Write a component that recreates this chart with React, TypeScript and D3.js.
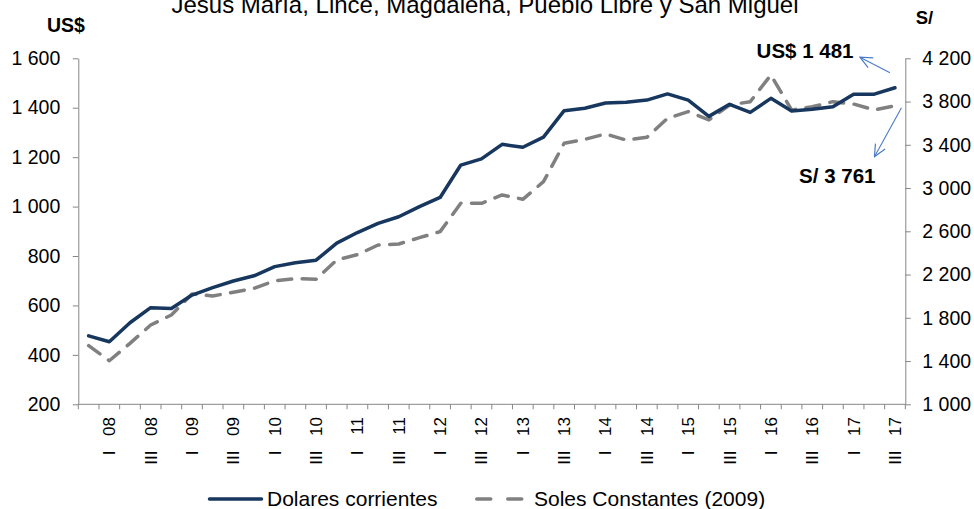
import { useEffect, useRef } from "react"
import * as d3 from "d3"

const categories = [
  "IV 07",
  "I 08", "II 08", "III 08", "IV 08",
  "I 09", "II 09", "III 09", "IV 09",
  "I 10", "II 10", "III 10", "IV 10",
  "I 11", "II 11", "III 11", "IV 11",
  "I 12", "II 12", "III 12", "IV 12",
  "I 13", "II 13", "III 13", "IV 13",
  "I 14", "II 14", "III 14", "IV 14",
  "I 15", "II 15", "III 15", "IV 15",
  "I 16", "II 16", "III 16", "IV 16",
  "I 17", "II 17", "III 17",
]

const dolares = [
  477, 453, 530, 591, 588, 642, 672, 699, 720, 757,
  773, 783, 852, 895, 932, 959, 1000, 1037, 1168, 1193,
  1252, 1240, 1281, 1388, 1398, 1419, 1422, 1431, 1456, 1431,
  1365, 1414, 1381, 1438, 1387, 1394, 1404, 1455, 1455, 1481,
]

const soles = [
  1542, 1403, 1564, 1733, 1826, 2020, 2002, 2036, 2073, 2143,
  2162, 2156, 2335, 2384, 2473, 2483, 2541, 2597, 2859, 2859,
  2936, 2896, 3059, 3414, 3451, 3500, 3444, 3469, 3645, 3707,
  3630, 3768, 3799, 4046, 3722, 3752, 3799, 3777, 3722, 3761,
]

const leftTicks = [200, 400, 600, 800, 1000, 1200, 1400, 1600]
const rightTicks = [1000, 1400, 1800, 2200, 2600, 3000, 3400, 3800, 4200]

const title = "Jesus María, Lince, Magdalena, Pueblo Libre y San Miguel"
const seriesNames = ["Dolares corrientes", "Soles Constantes (2009)"]

const FONT = "'Liberation Sans', Arial, sans-serif"
const AXIS = "#868686"
const BLUE = "#17375e"
const GREY = "#808080"
const NOTE = "#4a7bc8"

const fmt = (v: number) => d3.format(",")(v).replace(/,/g, " ")

export default function App() {
  const svgRef = useRef<SVGSVGElement>(null)

  useEffect(() => {
    if (!svgRef.current) return
    const width = 974
    const height = 509
    const left = 78.3
    const right = 905.3
    const top = 58.3
    const bottom = 404.3

    const root = d3.select(svgRef.current)
    root.selectAll("*").remove()
    root.attr("width", width).attr("height", height)

    const x = d3.scaleBand<string>().domain(categories).range([left, right]).paddingInner(0).paddingOuter(0)
    const cx = (c: string) => (x(c) as number) + x.bandwidth() / 2
    const yL = d3.scaleLinear().domain([200, 1600]).range([bottom, top])
    const yR = d3.scaleLinear().domain([1000, 4200]).range([bottom, top])

    // open arrow head, tip at the end of the line
    root
      .append("defs")
      .append("marker")
      .attr("id", "arrowOpen")
      .attr("viewBox", "0 0 14 14")
      .attr("refX", 13)
      .attr("refY", 7)
      .attr("markerWidth", 14)
      .attr("markerHeight", 14)
      .attr("markerUnits", "userSpaceOnUse")
      .attr("orient", "auto")
      .append("path")
      .attr("d", "M1,1.5 L13,7 L1,12.5")
      .attr("fill", "none")
      .attr("stroke", NOTE)
      .attr("stroke-width", 1.2)

    // Title and axis units
    root
      .append("text")
      .attr("x", 485)
      .attr("y", 13)
      .attr("text-anchor", "middle")
      .attr("font-family", FONT)
      .attr("font-size", 24)
      .text(title)

    root
      .append("text")
      .attr("x", 66)
      .attr("y", 31.5)
      .attr("text-anchor", "middle")
      .attr("font-family", FONT)
      .attr("font-weight", "bold")
      .attr("font-size", 19.5)
      .text("US$")

    root
      .append("text")
      .attr("x", 924.5)
      .attr("y", 23.5)
      .attr("text-anchor", "middle")
      .attr("font-family", FONT)
      .attr("font-weight", "bold")
      .attr("font-size", 18.5)
      .text("S/")

    // Left axis
    const gl = root
      .append("g")
      .attr("transform", `translate(${left},0)`)
      .call(d3.axisLeft(yL).tickValues(leftTicks).tickSize(5.5).tickSizeOuter(0).tickPadding(12.5).tickFormat((d) => fmt(d as number)))
    gl.select(".domain").attr("stroke", AXIS)
    gl.selectAll(".tick line").attr("stroke", AXIS)
    gl.selectAll(".tick text").attr("fill", "#000").attr("font-size", 19.5).attr("font-family", FONT)

    // Right axis
    const gr = root
      .append("g")
      .attr("transform", `translate(${right},0)`)
      .call(d3.axisRight(yR).tickValues(rightTicks).tickSize(5.5).tickSizeOuter(0).tickPadding(11.5).tickFormat((d) => fmt(d as number)))
    gr.select(".domain").attr("stroke", AXIS)
    gr.selectAll(".tick line").attr("stroke", AXIS)
    gr.selectAll(".tick text").attr("fill", "#000").attr("font-size", 19.5).attr("font-family", FONT)

    // Bottom axis
    root
      .append("line")
      .attr("x1", left)
      .attr("x2", right)
      .attr("y1", bottom)
      .attr("y2", bottom)
      .attr("stroke", AXIS)
    const edges = [...categories.map((c) => x(c) as number), right]
    root
      .append("g")
      .selectAll("line")
      .data(edges)
      .join("line")
      .attr("x1", (d) => d)
      .attr("x2", (d) => d)
      .attr("y1", bottom)
      .attr("y2", bottom + 5)
      .attr("stroke", AXIS)

    const labelled = categories.filter((_, i) => i % 2 === 1)
    const xl = root.append("g").attr("font-family", FONT).attr("font-size", 17)
    labelled.forEach((c) => {
      const [roman, year] = c.split(" ")
      xl.append("text")
        .attr("transform", `translate(${cx(c)},417) rotate(-90)`)
        .attr("text-anchor", "end")
        .attr("dy", "0.35em")
        .text(year)
      xl.append("text")
        .attr("transform", `translate(${cx(c)},450.5) rotate(-90)`)
        .attr("text-anchor", "end")
        .attr("dy", "0.35em")
        .text(roman)
    })

    // Series
    const solesLine = d3
      .line<number>()
      .x((_, i) => cx(categories[i]))
      .y((d) => yR(d))
    const dolLine = d3
      .line<number>()
      .x((_, i) => cx(categories[i]))
      .y((d) => yL(d))

    root
      .append("path")
      .datum(soles)
      .attr("fill", "none")
      .attr("stroke", GREY)
      .attr("stroke-width", 3.5)
      .attr("stroke-dasharray", "14 10.5")
      .attr("stroke-linecap", "round")
      .attr("stroke-linejoin", "round")
      .attr("d", solesLine)

    root
      .append("path")
      .datum(dolares)
      .attr("fill", "none")
      .attr("stroke", BLUE)
      .attr("stroke-width", 3.5)
      .attr("stroke-linejoin", "round")
      .attr("stroke-linecap", "round")
      .attr("d", dolLine)

    // Annotations for the latest values
    const lastCat = categories[categories.length - 1]
    const lx = cx(lastCat)
    const lyD = yL(dolares[dolares.length - 1])
    const lyS = yR(soles[soles.length - 1])

    root
      .append("line")
      .attr("x1", lx - 5)
      .attr("y1", lyD - 15)
      .attr("x2", lx - 35)
      .attr("y2", lyD - 30.5)
      .attr("stroke", NOTE)
      .attr("stroke-width", 1.1)
      .attr("marker-end", "url(#arrowOpen)")
    root
      .append("text")
      .attr("x", lx - 41.5)
      .attr("y", lyD - 29.5)
      .attr("text-anchor", "end")
      .attr("font-family", FONT)
      .attr("font-weight", "bold")
      .attr("font-size", 20.5)
      .text(`US$ ${fmt(dolares[dolares.length - 1])}`)

    root
      .append("line")
      .attr("x1", lx + 6.5)
      .attr("y1", lyS + 2)
      .attr("x2", lx - 20.5)
      .attr("y2", lyS + 51)
      .attr("stroke", NOTE)
      .attr("stroke-width", 1.1)
      .attr("marker-end", "url(#arrowOpen)")
    root
      .append("text")
      .attr("x", lx - 19.5)
      .attr("y", lyS + 77)
      .attr("text-anchor", "end")
      .attr("font-family", FONT)
      .attr("font-weight", "bold")
      .attr("font-size", 20.5)
      .text(`S/ ${fmt(soles[soles.length - 1])}`)

    // Legend
    const lg = root.append("g").attr("font-family", FONT).attr("font-size", 21)
    lg.append("line")
      .attr("x1", 209.5)
      .attr("x2", 261.5)
      .attr("y1", 499)
      .attr("y2", 499)
      .attr("stroke", BLUE)
      .attr("stroke-width", 3.5)
      .attr("stroke-linecap", "round")
    lg.append("text").attr("x", 267).attr("y", 506).text(seriesNames[0])
    lg.append("line")
      .attr("x1", 476.75)
      .attr("x2", 523.25)
      .attr("y1", 499)
      .attr("y2", 499)
      .attr("stroke", GREY)
      .attr("stroke-width", 3.5)
      .attr("stroke-dasharray", "14 17")
      .attr("stroke-linecap", "round")
    lg.append("text").attr("x", 534).attr("y", 506).text(seriesNames[1])
  }, [])

  return (
    <div style={{ position: "absolute", left: 0, top: 0, width: 974, height: 509, background: "#fff" }}>
      <svg ref={svgRef} style={{ display: "block" }} />
    </div>
  )
}
